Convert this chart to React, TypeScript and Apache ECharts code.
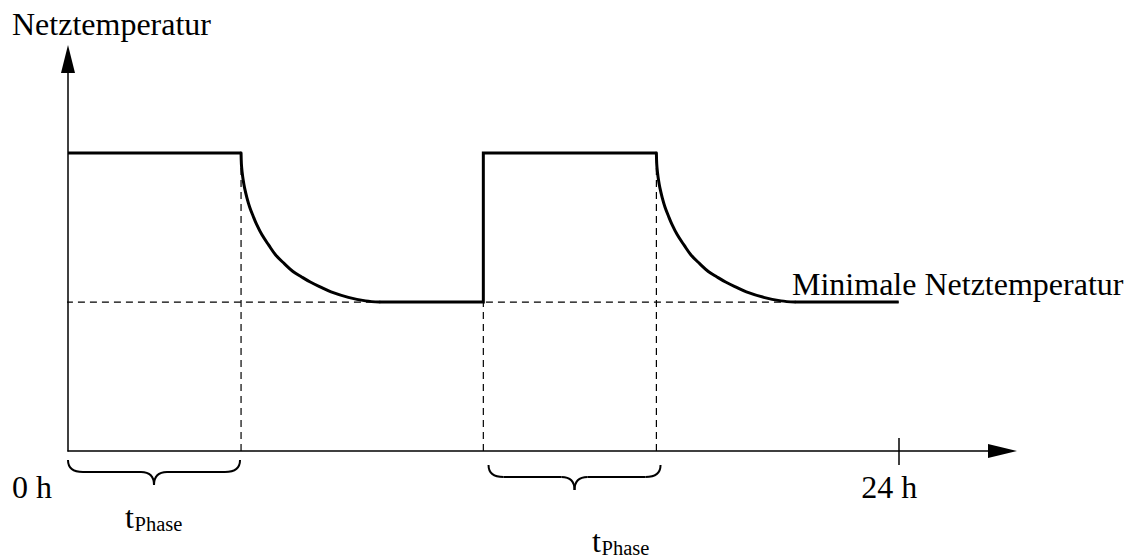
import React, { useEffect, useRef } from 'react';
import * as echarts from 'echarts';

// ---- data (hours, temperature in arbitrary units) ----
const HIGH_TEMP = 76;
const MIN_TEMP = 38;
// level segments of the temperature curve
const LEVEL_TIME = [[0, 5], [9, 12, 12, 17], [21, 24]];
const LEVEL_TEMP = [[76, 76], [38, 38, 76, 76], [38, 38]];
// cooling-down curves after each phase
const DECAY1_TIME = [5, 5.01, 5.03, 5.06, 5.1, 5.17, 5.25, 5.35, 5.45, 5.6, 5.8, 6.0, 6.25, 6.5, 6.75, 7.0, 7.3, 7.6, 8.1, 8.6, 9.0];
const DECAY1_TEMP = [76, 73.2, 71.2, 69.2, 67.2, 64.6, 62.2, 59.9, 57.8, 55.2, 52.5, 50, 47.8, 45.8, 44.4, 43.1, 41.8, 40.6, 39.2, 38.3, 38];
const DECAY2_TIME = [17, 17.01, 17.03, 17.06, 17.1, 17.17, 17.25, 17.35, 17.45, 17.6, 17.8, 18.0, 18.25, 18.5, 18.75, 19.0, 19.3, 19.6, 20.1, 20.6, 21.0];
const DECAY2_TEMP = [76, 73.2, 71.2, 69.2, 67.2, 64.6, 62.2, 59.9, 57.8, 55.2, 52.5, 50, 47.8, 45.8, 44.4, 43.1, 41.8, 40.6, 39.2, 38.3, 38];
const DASH_X = [5, 12, 17];
const DASH_TOP = [HIGH_TEMP, MIN_TEMP, HIGH_TEMP];
const MIN_LINE_X = [-1.1, 24];
const PHASE_BRACES = [[0, 4.97], [12.15, 17.12]];
const X_LABEL_VALUES = [0, 24];
const X_LABELS = ['0 h', '24 h'];
const X_TICK_VALUES = [24];

// ---- style ----
const FONT = 'Liberation Serif';
const BRACE_DROP = [9, 14];

export default function App() {
  const ref = useRef<HTMLDivElement>(null);
  useEffect(() => {
    const chart = echarts.init(ref.current!, null, { renderer: 'svg' });
    const solid = { color: '#000', width: 3, join: 'round', cap: 'round' };
    const dashStyle = { color: '#000', width: 1.2, type: [7, 5] as any };
    const dashSeries: any[] = DASH_X.map((x, i) => ({
      type: 'line',
      data: [[x, 0], [x, DASH_TOP[i]]],
      showSymbol: false,
      symbol: 'none',
      lineStyle: dashStyle,
      z: 2,
      silent: true,
    }));
    dashSeries.push({
      type: 'line',
      data: MIN_LINE_X.map((x) => [x, MIN_TEMP]),
      showSymbol: false,
      symbol: 'none',
      clip: false,
      lineStyle: dashStyle,
      z: 2,
      silent: true,
    });
    const levelSeries = LEVEL_TIME.map((ts, k) => ({
      type: 'line',
      data: ts.map((t, i) => [t, LEVEL_TEMP[k][i]]),
      showSymbol: false,
      symbol: 'none',
      lineStyle: { ...solid, join: 'miter', cap: 'butt' },
      z: 5,
      silent: true,
    }));
    const decaySeries = [
      [DECAY1_TIME, DECAY1_TEMP],
      [DECAY2_TIME, DECAY2_TEMP],
    ].map(([ts, vs]) => ({
      type: 'line',
      data: ts.map((t, i) => [t, vs[i]]),
      showSymbol: false,
      symbol: 'none',
      smooth: 0.35,
      lineStyle: solid,
      z: 5,
      silent: true,
    }));
    const txt = (text: string, x: number, y: number, size: number) => ({
      type: 'text',
      x,
      y,
      silent: true,
      style: {
        text,
        font: size + 'px "' + FONT + '"',
        fontSize: size,
        fontFamily: FONT,
        fill: '#000',
        align: 'left',
        verticalAlign: 'middle',
      },
    });
    const option: any = {
      animation: false,
      backgroundColor: '#fff',
      textStyle: { fontFamily: FONT },
      grid: { left: 68, right: 123.5, top: 59, bottom: 108 },
      xAxis: [
        {
          type: 'value',
          min: 0,
          max: 27,
          interval: 24,
          position: 'bottom',
          splitLine: { show: false },
          axisLine: {
            show: true,
            symbol: ['none', 'triangle'],
            symbolSize: [14, 29],
            lineStyle: { color: '#000', width: 1.5 },
          },
          axisTick: { show: true, customValues: X_TICK_VALUES, length: 14, lineStyle: { color: '#000', width: 1.5 } },
          axisLabel: {
            show: true,
            customValues: X_LABEL_VALUES,
            margin: 36,
            verticalAlign: 'middle',
            align: 'center',
            color: '#000',
            fontSize: 32,
            fontFamily: FONT,
            formatter: (v: number) => {
              const i = X_LABEL_VALUES.indexOf(v);
              if (i < 0) return '';
              return i === 0 ? '{a|' + X_LABELS[i] + '}' : '{b|' + X_LABELS[i] + '}';
            },
            rich: {
              a: { fontSize: 32, fontFamily: FONT, color: '#000', padding: [0, 72, 0, 0] },
              b: { fontSize: 32, fontFamily: FONT, color: '#000', padding: [0, 19, 0, 0] },
            },
          },
        },
        {
          type: 'value',
          min: 0,
          max: 27,
          interval: 24,
          position: 'bottom',
          splitLine: { show: false },
          axisLine: { show: false },
          axisTick: { show: true, inside: true, customValues: X_TICK_VALUES, length: 13, lineStyle: { color: '#000', width: 1.5 } },
          axisLabel: { show: false },
        },
      ],
      yAxis: {
        type: 'value',
        min: 0,
        max: 100,
        splitLine: { show: false },
        axisTick: { show: false },
        axisLabel: { show: false },
        axisLine: {
          show: true,
          symbol: ['none', 'triangle'],
          symbolSize: [14, 28],
          lineStyle: { color: '#000', width: 1.5 },
        },
      },
      series: [
        ...dashSeries,
        ...levelSeries,
        ...decaySeries,
        {
          type: 'custom',
          data: PHASE_BRACES,
          clip: false,
          silent: true,
          encode: { x: [0, 1] },
          renderItem: (params: any, api: any) => {
            const a = api.coord([api.value(0), 0]);
            const b = api.coord([api.value(1), 0]);
            const drop = BRACE_DROP[params.dataIndex];
            const x1 = a[0];
            const x2 = b[0];
            const yT = a[1] + drop;
            const yH = yT + 12;
            const yTip = yH + 13;
            const mid = (x1 + x2) / 2;
            const r = 15;
            const s = 13;
            const style = { stroke: '#000', lineWidth: 2, fill: null };
            return {
              type: 'group',
              children: [
                { type: 'bezierCurve', shape: { x1, y1: yT, cpx1: x1, cpy1: yH, x2: x1 + r, y2: yH }, style },
                { type: 'line', shape: { x1: x1 + r, y1: yH, x2: mid - s, y2: yH }, style },
                { type: 'bezierCurve', shape: { x1: mid - s, y1: yH, cpx1: mid, cpy1: yH, x2: mid, y2: yTip }, style },
                { type: 'bezierCurve', shape: { x1: mid, y1: yTip, cpx1: mid, cpy1: yH, x2: mid + s, y2: yH }, style },
                { type: 'line', shape: { x1: mid + s, y1: yH, x2: x2 - r, y2: yH }, style },
                { type: 'bezierCurve', shape: { x1: x2 - r, y1: yH, cpx1: x2, cpy1: yH, x2, y2: yT }, style },
              ],
            };
          },
        },
      ],
      graphic: [
        txt('Netztemperatur', 12, 24.2, 32),
        txt('Minimale Netztemperatur', 792, 284.2, 32),
        txt('t', 125, 516.8, 32),
        txt('Phase', 134.5, 524.1, 20.5),
        txt('t', 592, 541, 32),
        txt('Phase', 601.5, 547.5, 20.5),
      ],
    };
    chart.setOption(option);
    return () => chart.dispose();
  }, []);
  return (
    <div
      ref={ref}
      style={{ position: 'absolute', left: 0, top: 0, width: 1126, height: 559, background: '#fff' }}
    />
  );
}
